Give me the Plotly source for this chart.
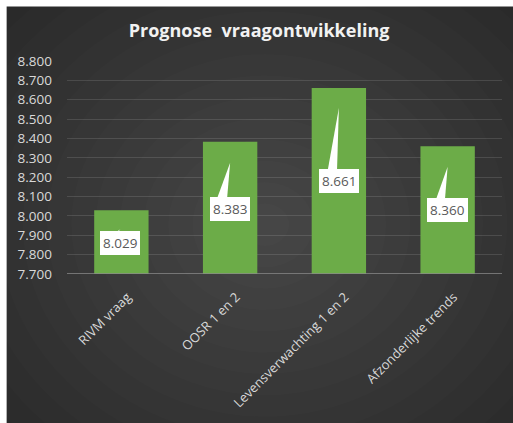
import plotly.graph_objects as go

# ---- data ----
categories = ["RIVM vraag", "OOSR 1 en 2", "Levensverwachting 1 en 2", "Afzonderlijke trends"]
values = [8029, 8383, 8661, 8360]
y_ticks = [7700, 7800, 7900, 8000, 8100, 8200, 8300, 8400, 8500, 8600, 8700, 8800]
title_text = "Prognose\u00a0\u00a0vraagontwikkeling"

# ---- layout geometry (pixels) ----
W, H = 513, 423
L, R, T, B = 66.5, 10.5, 60.7, 148.5
PW, PH = W - L - R, H - T - B

def px_x(p):
    return (p - L) / PW

def px_y(p):
    return 1 - (p - T) / PH

def fmt(v):
    return f"{v:,}".replace(",", ".")

fig = go.Figure()
fig.add_trace(go.Bar(
    x=categories, y=values,
    marker=dict(color="#6cac48", line=dict(width=0)),
    hoverinfo="skip",
))

shapes = []
# radial glow approximation
cx, cy = 265, 225
n = 14
for i in range(n):
    f = 1 - i / n
    rx, ry = 340 * f, 300 * f
    shapes.append(dict(type="circle", xref="paper", yref="paper", layer="below",
                       x0=px_x(cx - rx), x1=px_x(cx + rx),
                       y0=px_y(cy + ry), y1=px_y(cy - ry),
                       fillcolor="rgba(255,255,255,0.013)", line=dict(width=0)))
# white frame on top and left
shapes.append(dict(type="rect", xref="paper", yref="paper", layer="below",
                   x0=px_x(-2), x1=px_x(W + 2), y0=px_y(-2), y1=px_y(6),
                   fillcolor="white", line=dict(width=0)))
shapes.append(dict(type="rect", xref="paper", yref="paper", layer="below",
                   x0=px_x(-2), x1=px_x(6), y0=px_y(-2), y1=px_y(H + 2),
                   fillcolor="white", line=dict(width=0)))

# label box centre offset from bar top (px, downward) and callout wedge geometry
label_centres = [(-1.5, 33), (0, 67.5), (0, 93.5), (0, 64)]
wedges = [
    [(-1, 19), (-13, 27), (-8, 27)],
    [(0, 21), (-15, 62), (-3.5, 62)],
    [(0, 20), (-12, 87), (-2, 87)],
    [(0, 20.5), (-13, 57), (-3, 57)],
]

annotations = []
for c, v, (dx, dy), wg in zip(categories, values, label_centres, wedges):
    path = "M " + " L ".join(f"{px},{-py}" for px, py in wg) + " Z"
    shapes.append(dict(type="path", xref="x", yref="y",
                       xsizemode="pixel", ysizemode="pixel",
                       xanchor=c, yanchor=v, path=path,
                       fillcolor="white", line=dict(width=0), layer="above"))
    annotations.append(dict(
        x=c, y=v, xref="x", yref="y", xshift=dx, yshift=-dy,
        text=fmt(v), showarrow=False, xanchor="center", yanchor="middle",
        bgcolor="white", bordercolor="white", borderwidth=1, borderpad=2,
        font=dict(family="Open Sans", size=13.5, color="#595959"),
    ))

fig.update_layout(
    width=W, height=H,
    margin=dict(l=L, r=R, t=T, b=B),
    paper_bgcolor="#2a2a2a",
    plot_bgcolor="rgba(0,0,0,0)",
    separators=",.",
    bargap=0.5,
    showlegend=False,
    shapes=shapes,
    annotations=annotations,
    title=dict(text=title_text, x=0.505, xanchor="center", y=1 - 31 / H, yanchor="middle",
               xref="container", yref="container",
               font=dict(family="Open Sans", size=18, color="#f2f2f2", weight="bold")),
    xaxis=dict(
        tickangle=-45, showgrid=False, zeroline=False, showline=False, ticks="",
        ticklabelstandoff=12, ticklabelshift=6,
        tickfont=dict(family="Open Sans", size=13, color="#d9d9d9"),
    ),
    yaxis=dict(
        range=[7700, 8800], tickvals=y_ticks, ticktext=[fmt(t) for t in y_ticks],
        showgrid=True, gridcolor="rgba(255,255,255,0.12)", gridwidth=1,
        zeroline=False, showline=False, ticks="", ticklabelstandoff=14,
        tickfont=dict(family="Open Sans", size=13.5, color="#d9d9d9"),
    ),
)
# axis baseline at bottom of plot
fig.add_shape(type="line", xref="paper", yref="y", x0=0, x1=1, y0=7700, y1=7700,
              line=dict(color="#8a8a8a", width=1.5), layer="above")

fig.write_html(
    "out.html", config={"displayModeBar": False},
    post_script=("document.body.style.margin='0px';document.body.style.overflow='hidden';"
                 "document.body.style.background='#2a2a2a';"
                 "document.documentElement.style.background='#2a2a2a';"))
